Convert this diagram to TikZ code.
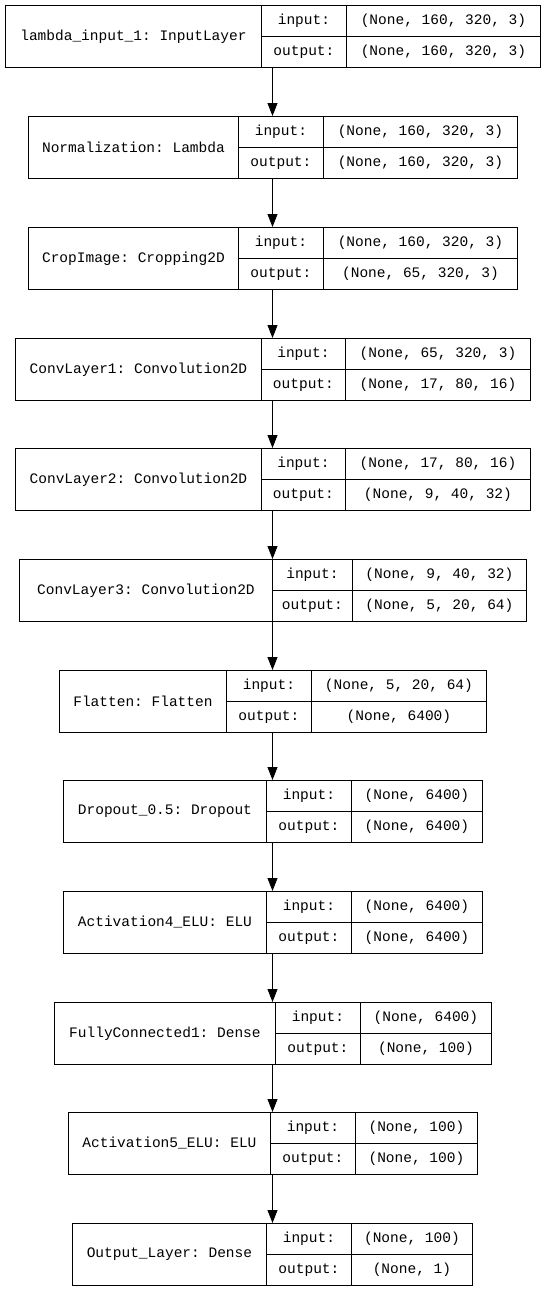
\documentclass[tikz,border=0pt]{standalone}
\usepackage{fontspec}
\setmonofont{Liberation Mono}
\usepackage{xcolor}
\usetikzlibrary{arrows.meta}

\tikzset{
  cell/.style={draw, line width=0.9pt, anchor=north west, inner sep=0pt,
    font=\ttfamily\fontsize{14.5}{17}\selectfont},
  namecell/.style={cell, minimum height=62pt},
  halfcell/.style={cell, minimum height=31pt},
  flow/.style={-{Triangle[length=13pt,width=10pt]}, line width=0.9pt}
}

% #1 id, #2 top, #3 left, #4 first divider, #5 second divider, #6 right,
% #7 layer text, #8 input shape, #9 output shape
\newcommand{\layerbox}[9]{
  \node[namecell, minimum width={#4-#3}] (#1) at (#3,#2) {#7};
  \node[halfcell, minimum width={#5-#4}] (#1in) at (#4,#2) {input:};
  \node[halfcell, minimum width={#5-#4}] (#1out) at (#4,#2+31) {output:};
  \node[halfcell, minimum width={#6-#5}] (#1inval) at (#5,#2) {#8};
  \node[halfcell, minimum width={#6-#5}] (#1outval) at (#5,#2+31) {#9};
  \coordinate (#1top) at (272.5,#2);
  \coordinate (#1bot) at (272.5,#2+62);
}

\begin{document}
\begin{tikzpicture}[x=1pt,y=-1pt]
  \useasboundingbox (0,0) rectangle (545,1291);

  \layerbox{inl}{5}{5}{261}{346}{540}{lambda\_input\_1: InputLayer}{(None, 160, 320, 3)}{(None, 160, 320, 3)}
  \layerbox{norm}{116}{28}{238}{323}{517}{Normalization: Lambda}{(None, 160, 320, 3)}{(None, 160, 320, 3)}
  \layerbox{crop}{227}{28}{238}{323}{517}{CropImage: Cropping2D}{(None, 160, 320, 3)}{(None, 65, 320, 3)}
  \layerbox{convA}{338}{15}{261}{345}{530}{ConvLayer1: Convolution2D}{(None, 65, 320, 3)}{(None, 17, 80, 16)}
  \layerbox{convB}{448}{15}{261}{345}{530}{ConvLayer2: Convolution2D}{(None, 17, 80, 16)}{(None, 9, 40, 32)}
  \layerbox{convC}{559}{19}{272}{352}{526}{ConvLayer3: Convolution2D}{(None, 9, 40, 32)}{(None, 5, 20, 64)}
  \layerbox{flat}{670}{59}{226}{311}{486}{Flatten: Flatten}{(None, 5, 20, 64)}{(None, 6400)}
  \layerbox{drop}{780}{63}{266}{351}{482}{Dropout\_0.5: Dropout}{(None, 6400)}{(None, 6400)}
  \layerbox{actA}{891}{63}{266}{351}{482}{Activation4\_ELU: ELU}{(None, 6400)}{(None, 6400)}
  \layerbox{fcA}{1002}{54}{275}{360}{491}{FullyConnected1: Dense}{(None, 6400)}{(None, 100)}
  \layerbox{actB}{1112}{68}{270}{355}{477}{Activation5\_ELU: ELU}{(None, 100)}{(None, 100)}
  \layerbox{outl}{1223}{72}{266}{351}{472}{Output\_Layer: Dense}{(None, 100)}{(None, 1)}

  \draw[flow] (inlbot) -- (normtop);
  \draw[flow] (normbot) -- (croptop);
  \draw[flow] (cropbot) -- (convAtop);
  \draw[flow] (convAbot) -- (convBtop);
  \draw[flow] (convBbot) -- (convCtop);
  \draw[flow] (convCbot) -- (flattop);
  \draw[flow] (flatbot) -- (droptop);
  \draw[flow] (dropbot) -- (actAtop);
  \draw[flow] (actAbot) -- (fcAtop);
  \draw[flow] (fcAbot) -- (actBtop);
  \draw[flow] (actBbot) -- (outltop);
\end{tikzpicture}
\end{document}
